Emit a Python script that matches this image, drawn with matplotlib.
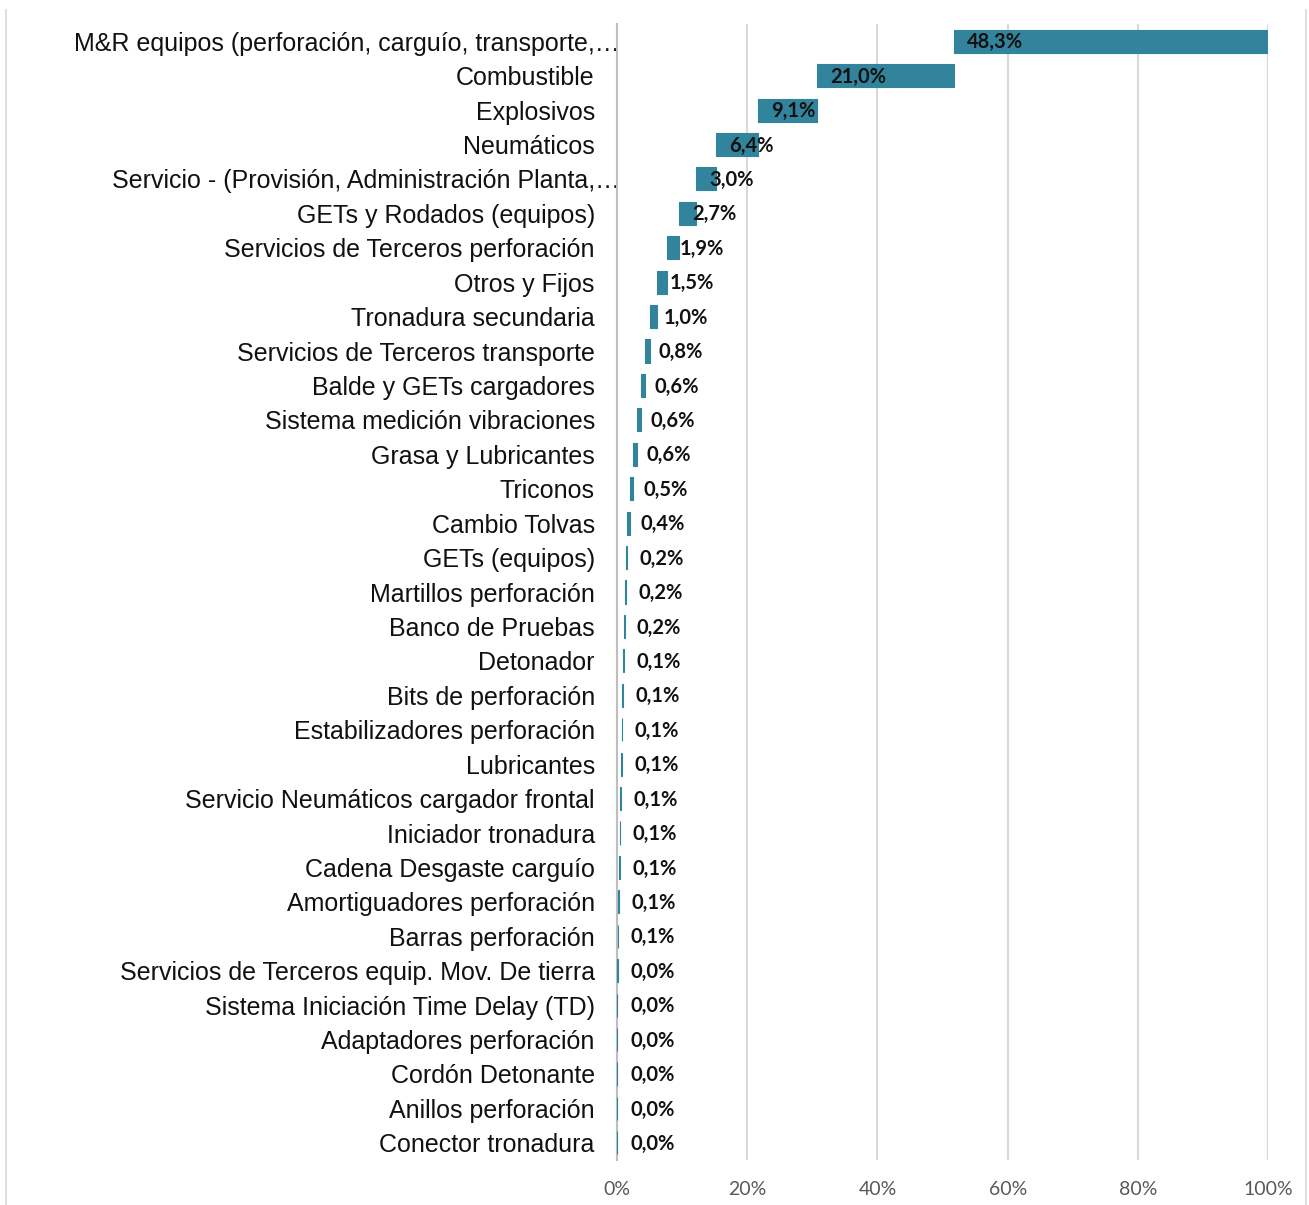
import numpy as np
import matplotlib
matplotlib.use("Agg")
import matplotlib.pyplot as plt
from matplotlib.lines import Line2D
from matplotlib.ticker import FuncFormatter
from matplotlib.transforms import ScaledTranslation

categories = [
    "M&R equipos (perforación, carguío, transporte,…",
    "Combustible",
    "Explosivos",
    "Neumáticos",
    "Servicio - (Provisión, Administración Planta,…",
    "GETs y Rodados (equipos)",
    "Servicios de Terceros perforación",
    "Otros y Fijos",
    "Tronadura secundaria",
    "Servicios de Terceros transporte",
    "Balde y GETs cargadores",
    "Sistema medición vibraciones",
    "Grasa y Lubricantes",
    "Triconos",
    "Cambio Tolvas",
    "GETs (equipos)",
    "Martillos perforación",
    "Banco de Pruebas",
    "Detonador",
    "Bits de perforación",
    "Estabilizadores perforación",
    "Lubricantes",
    "Servicio Neumáticos cargador frontal",
    "Iniciador tronadura",
    "Cadena Desgaste carguío",
    "Amortiguadores perforación",
    "Barras perforación",
    "Servicios de Terceros equip. Mov. De tierra",
    "Sistema Iniciación Time Delay (TD)",
    "Adaptadores perforación",
    "Cordón Detonante",
    "Anillos perforación",
    "Conector tronadura",
]
# share of total cost, %
values = [48.3, 21.0, 9.1, 6.4, 3.0, 2.7, 1.9, 1.5, 1.0, 0.8, 0.6, 0.6, 0.6,
          0.5, 0.4, 0.2, 0.2, 0.2, 0.1, 0.1, 0.1, 0.1, 0.1, 0.1, 0.1, 0.1,
          0.1, 0.04, 0.04, 0.03, 0.03, 0.02, 0.02]
xticks = [0, 20, 40, 60, 80, 100]

vals = np.array(values)
# waterfall: each bar ends where the one above starts
left = 100 - np.cumsum(vals)
left = np.clip(left, 0, None)
y = np.arange(len(categories))

fig = plt.figure(figsize=(13.09, 12.05), dpi=100)
ax = fig.add_axes([0.4714, 0.0373, 0.4973, 0.9428])

ax.barh(y, vals, left=left, height=0.67, color="#31849b",
        edgecolor="#31849b", linewidth=0.8, zorder=3)

for yi, l, v in zip(y, left, vals):
    ax.annotate(f"{v:.1f}%".replace(".", ","), (l, yi), xytext=(9.5, -0.8),
                textcoords="offset points", ha="left", va="center",
                fontsize=14.5, fontweight="bold", color="#111111",
                family=["Lato", "DejaVu Sans"], zorder=4)

ax.set_xlim(0, 100)
ax.set_ylim(len(categories) - 0.5, -0.5)
ax.set_xticks(xticks)
ax.xaxis.set_major_formatter(FuncFormatter(lambda v, p: f"{v:.0f}%"))
ax.set_yticks(y)
ax.set_yticklabels(categories, fontsize=18, family="Liberation Sans",
                   color="#111111")
ax.tick_params(axis="y", length=0, pad=16)
ax.tick_params(axis="x", length=0, pad=15, labelsize=14, labelcolor="#595959")
for t in ax.get_xticklabels():
    t.set_family(["Lato", "DejaVu Sans"])
# truncated labels overflow to the right, as in the original
for t in ax.get_yticklabels():
    if t.get_text().endswith("…"):
        t.set_transform(t.get_transform() +
                        ScaledTranslation(0.25, 0, fig.dpi_scale_trans))

ax.grid(axis="x", color="#d9d9d9", linewidth=1.5, zorder=0)
for s in ["top", "right", "bottom"]:
    ax.spines[s].set_visible(False)
ax.spines["left"].set_color("#bfbfbf")
ax.spines["left"].set_linewidth(1.5)
ax.spines["left"].set_zorder(2)

# chart area frame (left and right edges)
fig.add_artist(Line2D([6 / 1309, 6 / 1309], [0, 1 - 10 / 1205],
                      transform=fig.transFigure, color="#d9d9d9", lw=1.2))
fig.add_artist(Line2D([1306 / 1309, 1306 / 1309], [0, 1 - 10 / 1205],
                      transform=fig.transFigure, color="#d9d9d9", lw=1.2))

fig.savefig("out.png", dpi=100)
